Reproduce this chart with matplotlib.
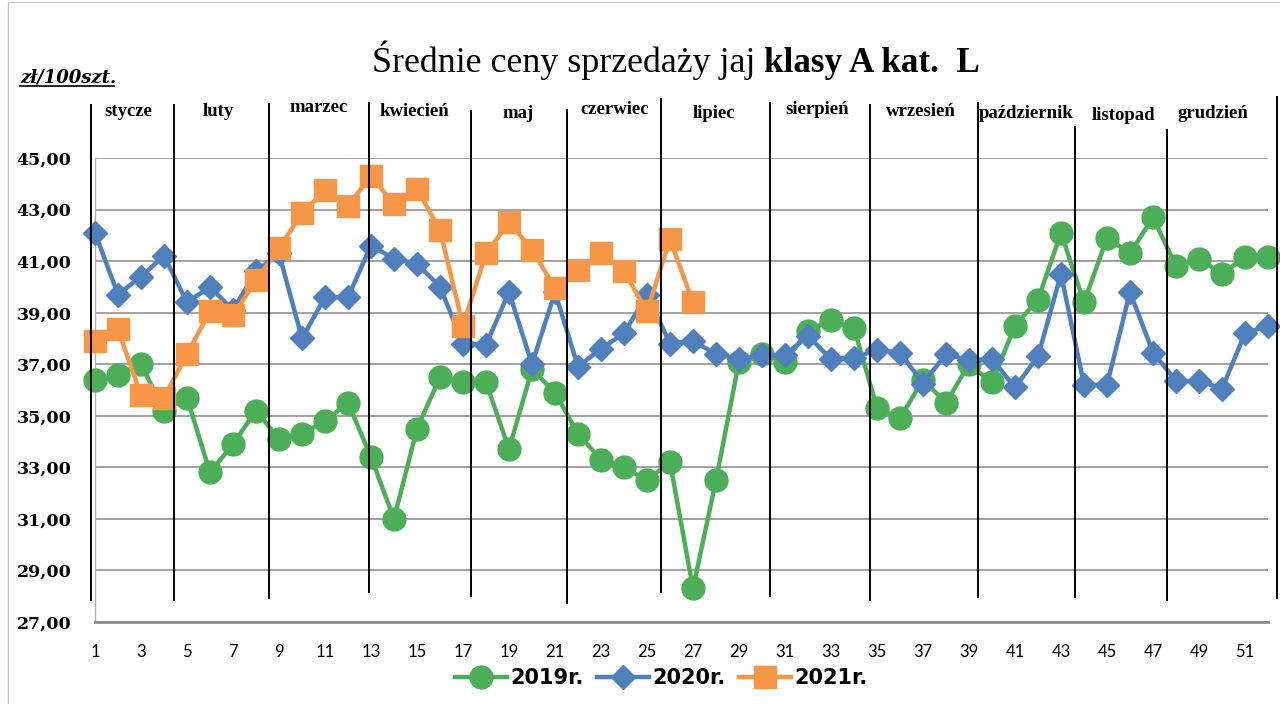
import numpy as np
import matplotlib.pyplot as plt
from matplotlib.transforms import blended_transform_factory
from matplotlib.patches import Rectangle

# Data - average weekly prices, zl/100 szt.
weeks = list(range(1, 53))
ceny_2019 = [36.4, 36.6, 37.0, 35.2, 35.7, 32.8, 33.9, 35.2, 34.1, 34.3,
             34.8, 35.5, 33.4, 31.0, 34.5, 36.5, 36.3, 36.3, 33.7, 36.8,
             35.9, 34.3, 33.3, 33.0, 32.5, 33.2, 28.3, 32.5, 37.1, 37.4,
             37.1, 38.3, 38.7, 38.4, 35.3, 34.9, 36.4, 35.5, 37.0, 36.3,
             38.5, 39.5, 42.1, 39.4, 41.9, 41.3, 42.7, 40.8, 41.1, 40.5,
             41.15, 41.15]
ceny_2020 = [42.1, 39.7, 40.4, 41.2, 39.4, 40.0, 39.1, 40.6, 41.3, 38.0,
             39.6, 39.6, 41.6, 41.1, 40.9, 40.0, 37.8, 37.75, 39.8, 37.0,
             39.8, 36.9, 37.6, 38.2, 39.7, 37.8, 37.9, 37.4, 37.2, 37.35,
             37.35, 38.1, 37.2, 37.25, 37.55, 37.45, 36.25, 37.4, 37.15, 37.2,
             36.1, 37.3, 40.5, 36.2, 36.2, 39.8, 37.45, 36.35, 36.35, 36.05,
             38.2, 38.5]
ceny_2021 = [37.9, 38.35, 35.8, 35.7, 37.4, 39.05, 38.9, 40.25, 41.5, 42.85,
             43.75, 43.15, 44.3, 43.2, 43.8, 42.2, 38.5, 41.3, 42.5, 41.45,
             39.95, 40.65, 41.3, 40.6, 39.05, 41.85, 39.4]

miesiace = ['stycze', 'luty', 'marzec', 'kwiecień', 'maj', 'czerwiec', 'lipiec',
            'sierpień', 'wrzesień', 'październik', 'listopad', 'grudzień']

# month separators (week position) and label placement
sep_x = [0.83, 4.43, 8.57, 12.9, 17.35, 21.52, 25.61, 30.35, 34.7, 39.4, 43.6, 47.6, 52.4]
sep_top = [105, 105, 104, 103, 111, 110, 99, 103, 105, 103, 127, 130, 97]
sep_bot = [600, 600, 598, 592, 596, 603, 592, 596, 600, 597, 597, 600, 598]
lab_x = [2.45, 6.35, 10.7, 14.9, 19.4, 23.6, 27.9, 32.4, 36.9, 41.5, 45.7, 49.6]
lab_y = [111, 111, 108, 111, 113, 110, 113, 110, 112, 113, 115, 113]

W, H = 1280, 704
fig = plt.figure(figsize=(12.8, 7.04), dpi=100)
ax = fig.add_axes([95 / W, 1 - 622 / H, (1268 - 95) / W, (622 - 158) / H])

serif = 'Liberation Serif'
sans = 'Lato'

ax.plot(weeks, ceny_2019, color='#4caf57', lw=3.2, marker='o', ms=16.5,
        label='2019r.', zorder=3, clip_on=False)
ax.plot(weeks, ceny_2020, color='#4f7fbc', lw=3.2, marker='D', ms=12.5,
        label='2020r.', zorder=4, clip_on=False)
ax.plot(weeks[:len(ceny_2021)], ceny_2021, color='#f79646', lw=3.2, marker='s',
        ms=15.5, label='2021r.', zorder=5, clip_on=False)

ax.set_xlim(1, 52)
ax.set_ylim(27, 45)
ax.set_yticks(np.arange(27, 46, 2))
ax.set_yticklabels([f'{v:.2f}'.replace('.', ',') for v in np.arange(27, 46, 2)],
                   fontfamily='DejaVu Serif', fontweight='bold', fontsize=12.5)
ax.set_xticks(range(1, 52, 2))
ax.set_xticklabels([str(i) for i in range(1, 52, 2)], fontfamily=sans, fontsize=12)
ax.tick_params(length=0, pad=16)
ax.tick_params(axis='y', pad=17)
ax.grid(axis='y', color='#9a9a9a', lw=1.3)
for s in ['top', 'right']:
    ax.spines[s].set_visible(False)
ax.spines['left'].set_color('#b0b0b0')
ax.spines['left'].set_linewidth(1.0)
ax.spines['bottom'].set_color('#8c8c8c')
ax.spines['bottom'].set_linewidth(2)

# month separators + names
tr = blended_transform_factory(ax.transData, fig.transFigure)
for x, t, b in zip(sep_x, sep_top, sep_bot):
    ax.plot([x, x], [1 - t / H, 1 - b / H], color='black', lw=1.4,
            transform=tr, clip_on=False, zorder=6)
for name, x, y in zip(miesiace, lab_x, lab_y):
    ax.text(x, 1 - y / H, name, transform=tr, ha='center', va='center',
            fontfamily=serif, fontweight='bold', fontsize=13.5)

# title in two styles
t1 = fig.text(372 / W, 1 - 72 / H, 'Średnie ceny sprzedaży jaj ', fontfamily=serif,
              fontsize=25.8, va='baseline', ha='left')
ax.annotate('klasy A kat.  L', xy=(1, 0), xycoords=t1, va='bottom', ha='left',
            fontfamily=serif, fontsize=25.3, fontweight='bold')

# unit label
fig.text(20 / W, 1 - 82 / H, 'zł/100szt.', fontfamily='DejaVu Serif', fontsize=13,
         fontweight='bold', fontstyle='italic', va='baseline')
fig.add_artist(plt.Line2D([20 / W, 114 / W], [1 - 86 / H, 1 - 86 / H],
                          color='black', lw=1.2))

# chart border
fig.add_artist(Rectangle((8 / W, -0.05), 1.2, 1.05 - 2 / H, transform=fig.transFigure,
                         fill=False, edgecolor='#c8c8c8', lw=1))

ax.legend(loc='center', bbox_to_anchor=(661 / W, 1 - 678 / H),
          bbox_transform=fig.transFigure, ncol=3, frameon=False,
          prop={'family': 'DejaVu Sans', 'weight': 'bold', 'size': 15},
          handlelength=2.5, columnspacing=0.65, handletextpad=0.15)

fig.savefig('out.png', dpi=100)
